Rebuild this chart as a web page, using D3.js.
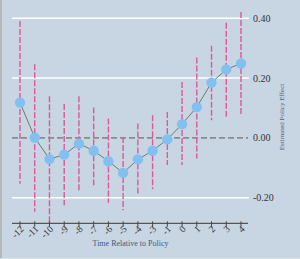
<!DOCTYPE html>
<html><head><meta charset="utf-8">
<script src="https://cdn.jsdelivr.net/npm/d3@7"></script>
<style>html,body{margin:0;padding:0;background:#c8d6e3;}svg{display:block;}</style>
</head><body>
<svg id="chart" width="300" height="259"></svg>
<script>
const periods = ["-12","-11","-10","-9","-8","-7","-6","-5","-4","-3","-1","0","1","2","3","4"];
const estimates = [0.118,0.001,-0.071,-0.056,-0.019,-0.043,-0.078,-0.117,-0.072,-0.043,-0.005,0.046,0.103,0.185,0.229,0.249];
const ciLower = [-0.153,-0.247,-0.285,-0.225,-0.181,-0.158,-0.217,-0.242,-0.186,-0.172,-0.091,-0.091,-0.069,0.059,0.070,0.076];
const ciUpper = [0.391,0.246,0.139,0.113,0.139,0.102,0.065,0.003,0.048,0.076,0.087,0.187,0.269,0.308,0.385,0.421];
const yTicks = [0.4,0.2,0.0,-0.2];
const yTickLabels = ["0.40","0.20","0.00","-0.20"];
const xTitle = "Time Relative to Policy";
const yTitle = "Estimated Policy Effect";

const svg = d3.select("#chart");
svg.append("rect").attr("width",300).attr("height",259).attr("fill","#c8d6e3");
svg.append("line").attr("x1",1).attr("x2",1).attr("y1",0).attr("y2",259).attr("stroke","#aaa39c").attr("stroke-width",1.2);
svg.append("line").attr("x1",0).attr("x2",300).attr("y1",258.5).attr("y2",258.5).attr("stroke","#dbe3ea").attr("stroke-width",1);

const x = d3.scalePoint().domain(periods).range([20,241]);
const y = d3.scaleLinear().domain([-0.2,0.4]).range([197.7,18.3]);
const left = 12, right = 249;

// grid lines
yTicks.forEach((t,i)=>{
  if (t === 0) return;
  svg.append("line").attr("x1",left).attr("x2",right).attr("y1",y(t)).attr("y2",y(t))
    .attr("stroke","#ffffff").attr("stroke-width",1.5);
});
// zero line
svg.append("line").attr("x1",left).attr("x2",right-1).attr("y1",y(0)).attr("y2",y(0))
  .attr("stroke","#8c8c8c").attr("stroke-width",1.6).attr("stroke-dasharray","6,3");

// y tick labels
svg.append("g").selectAll("text").data(yTicks).join("text")
  .attr("x",253).attr("y",d=>y(d)).attr("dy","0.35em")
  .attr("font-family","Liberation Serif, serif").attr("font-size",10).attr("fill","#333")
  .text((d,i)=>yTickLabels[i]);

// CI lines
svg.append("g").selectAll("line").data(periods).join("line")
  .attr("x1",d=>x(d)).attr("x2",d=>x(d))
  .attr("y1",(d,i)=>y(ciUpper[i])).attr("y2",(d,i)=>Math.min(y(ciLower[i]),223))
  .attr("stroke","#e0569a").attr("stroke-width",1.4).attr("stroke-dasharray","6,2");

// connecting line
const line = d3.line().x((d,i)=>x(periods[i])).y(d=>y(d));
svg.append("path").datum(estimates).attr("d",line).attr("fill","none")
  .attr("stroke","#6a7a70").attr("stroke-width",1);

// dots
svg.append("g").selectAll("circle").data(estimates).join("circle")
  .attr("cx",(d,i)=>x(periods[i])).attr("cy",d=>y(d)).attr("r",5.2)
  .attr("fill","#82c0ef");

// x axis
const axisY = 223.3;
svg.append("line").attr("x1",left).attr("x2",right-1).attr("y1",axisY).attr("y2",axisY)
  .attr("stroke","#555").attr("stroke-width",1.2);
svg.append("g").selectAll("line").data(periods).join("line")
  .attr("x1",d=>x(d)).attr("x2",d=>x(d)).attr("y1",axisY-2).attr("y2",axisY+3.5)
  .attr("stroke","#444").attr("stroke-width",1);
svg.append("g").selectAll("text").data(periods).join("text")
  .attr("transform",d=>`translate(${x(d)+2},${axisY+4}) rotate(-45)`)
  .attr("text-anchor","end").attr("dy","0.35em")
  .attr("font-family","Liberation Serif, serif").attr("font-size",9.5).attr("fill","#333")
  .text(d=>d);

// titles
svg.append("text").attr("x",130.5).attr("y",246).attr("text-anchor","middle")
  .attr("font-family","Liberation Serif, serif").attr("font-size",8).attr("fill","#3b5a80")
  .text(xTitle);
svg.append("text").attr("transform","translate(284,117) rotate(-90)").attr("text-anchor","middle")
  .attr("font-family","Liberation Serif, serif").attr("font-size",7).attr("fill","#506078")
  .text(yTitle);
</script>
</body></html>
